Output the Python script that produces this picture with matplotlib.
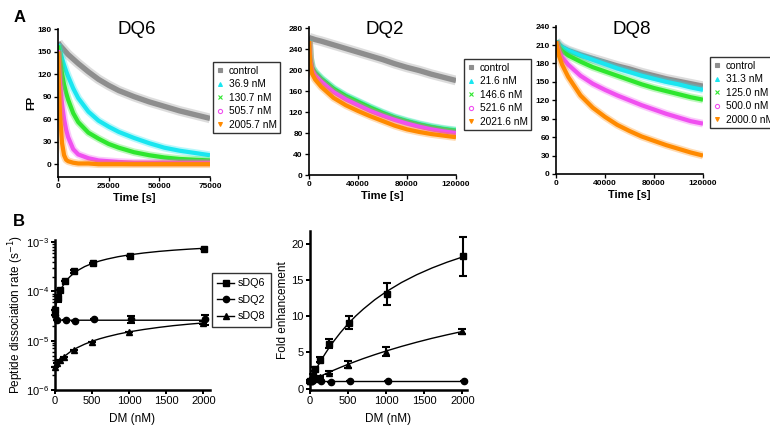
import matplotlib
matplotlib.use("Agg")
import matplotlib.pyplot as plt
from matplotlib.lines import Line2D
from matplotlib.ticker import LogLocator, NullFormatter, FixedLocator

plt.rcParams['font.family'] = ['Liberation Sans', 'DejaVu Sans']

# ---- panel A: FP decay traces ----
series_names = ["control", "c1", "c2", "c3", "c4"]
series_colors = ["#8e8e8e", "#19e6f0", "#2ee62e", "#f050f0", "#ff8a00"]
series_markers = ["s", "^", "x", "o", "v"]

dq6_labels = ["control", "36.9 nM", "130.7 nM", "505.7 nM", "2005.7 nM"]
dq6_time = [0, 500, 1000, 2000, 3000, 4000, 5000, 7500, 10000, 15000, 20000,
            25000, 30000, 37500, 45000, 52500, 60000, 67500, 75000]
dq6_control = [162, 160, 158, 155, 152, 149, 146, 140, 134, 123, 113, 105, 98, 90, 83, 77, 71, 66, 61]
dq6_c1 = [160, 155, 150, 141, 132, 124, 117, 101, 88, 70, 58, 50, 43, 35, 28, 22, 18, 15, 12]
dq6_c2 = [158, 148, 138, 120, 106, 95, 86, 68, 56, 42, 34, 27, 22, 16, 12, 9, 7, 6, 5]
dq6_c3 = [152, 128, 108, 80, 60, 46, 36, 20, 13, 8, 5, 4, 3, 2, 2, 2, 2, 2, 2]
dq6_c4 = [150, 100, 65, 28, 12, 6, 4, 2, 1, 1, 0, 0, 0, 0, 0, 0, 0, 0, 0]

dq2_labels = ["control", "21.6 nM", "146.6 nM", "521.6 nM", "2021.6 nM"]
dq2_time = [0, 1000, 2500, 5000, 10000, 20000, 30000, 40000, 50000, 60000,
            70000, 80000, 90000, 100000, 110000, 120000]
dq2_control = [262, 261, 260, 258, 255, 248, 241, 234, 227, 220, 212, 205, 199, 192, 186, 180]
dq2_c1 = [257, 222, 205, 196, 184, 165, 151, 140, 129, 119, 110, 103, 97, 92, 88, 85]
dq2_c2 = [257, 222, 204, 195, 183, 164, 150, 139, 128, 118, 109, 102, 96, 91, 87, 84]
dq2_c3 = [256, 218, 200, 190, 178, 158, 144, 133, 122, 113, 105, 98, 92, 87, 83, 80]
dq2_c4 = [255, 212, 193, 182, 168, 147, 133, 122, 112, 103, 94, 87, 82, 78, 75, 72]

dq8_labels = ["control", "31.3 nM", "125.0 nM", "500.0 nM", "2000.0 nM"]
dq8_time = [0, 2500, 5000, 10000, 20000, 30000, 40000, 50000, 60000, 70000,
            80000, 90000, 100000, 110000, 120000]
dq8_control = [216, 210, 206, 201, 194, 188, 182, 176, 171, 165, 160, 155, 151, 147, 143]
dq8_c1 = [216, 210, 206, 201, 193, 186, 179, 172, 166, 160, 155, 150, 146, 141, 137]
dq8_c2 = [216, 206, 200, 193, 183, 174, 167, 160, 153, 146, 140, 135, 130, 125, 121]
dq8_c3 = [216, 200, 190, 178, 160, 147, 137, 128, 120, 112, 105, 98, 92, 86, 82]
dq8_c4 = [216, 192, 178, 158, 128, 108, 93, 80, 70, 61, 54, 47, 41, 35, 30]

# ---- panel B: DM dose response ----
dq6_conc = [0, 36.9, 68.7, 130.7, 255.7, 505.7, 1005.7, 2005.7]
dq2_conc = [0, 21.6, 146.6, 271.6, 521.6, 1021.6, 2021.6]
dq8_conc = [0, 31.3, 62.5, 125, 250, 500, 1000, 2000]

dq6_rate = [4.1e-5, 7.2e-5, 1.08e-4, 1.65e-4, 2.55e-4, 3.7e-4, 5.3e-4, 7.3e-4]
dq6_rate_err = [0, 1.2e-5, 0, 0, 1.5e-5, 0, 0, 0]
dq2_rate = [3.3e-5, 2.6e-5, 2.6e-5, 2.45e-5, 2.75e-5, 2.7e-5, 2.7e-5]
dq2_rate_err = [0, 0, 0, 0, 0, 4.5e-6, 6e-6]
dq8_rate = [2.9e-6, 3.6e-6, 4.0e-6, 4.6e-6, 6.4e-6, 9.4e-6, 1.47e-5, 2.3e-5]
dq8_rate_err = [0, 0, 0, 0, 0, 0, 0, 1.5e-6]

dq6_fold = [1.0, 1.7, 2.7, 4.0, 6.2, 9.1, 13.1, 18.3]
dq6_fold_err = [0.2, 0.3, 0.3, 0.3, 0.6, 0.9, 1.5, 2.7]
dq2_fold = [1.0, 1.05, 1.0, 0.9, 1.0, 1.0, 1.0]
dq2_fold_err = [0, 0, 0, 0, 0, 0, 0]
dq8_fold = [1.0, 1.2, 1.3, 1.55, 2.2, 3.3, 5.1, 7.9]
dq8_fold_err = [0.1, 0.1, 0.1, 0.15, 0.2, 0.5, 0.6, 0.4]

# fitted curves
fit_x = [0, 25, 50, 75, 100, 150, 200, 250, 300, 400, 500, 600, 700, 850, 1000,
         1200, 1400, 1600, 1800, 2000]
dq6_rate_fit = [4.1e-5, 6.3e-5, 8.5e-5, 1.05e-4, 1.25e-4, 1.63e-4, 1.98e-4, 2.31e-4, 2.62e-4,
                3.18e-4, 3.67e-4, 4.12e-4, 4.51e-4, 5.04e-4, 5.49e-4, 6.01e-4, 6.46e-4,
                6.84e-4, 7.17e-4, 7.46e-4]
dq2_rate_fit = [3.0e-5, 2.75e-5, 2.65e-5, 2.62e-5, 2.6e-5, 2.6e-5, 2.6e-5, 2.6e-5, 2.6e-5,
                2.6e-5, 2.6e-5, 2.6e-5, 2.6e-5, 2.6e-5, 2.6e-5, 2.6e-5, 2.6e-5, 2.6e-5,
                2.6e-5, 2.6e-5]
dq8_rate_fit = [2.9e-6, 3.28e-6, 3.65e-6, 4.03e-6, 4.41e-6, 5.13e-6, 5.86e-6, 6.53e-6, 7.22e-6,
                8.5e-6, 9.74e-6, 1.09e-5, 1.2e-5, 1.36e-5, 1.51e-5, 1.69e-5, 1.86e-5,
                2.02e-5, 2.16e-5, 2.29e-5]
dq6_fold_fit = [1.0, 1.54, 2.07, 2.57, 3.06, 3.98, 4.84, 5.64, 6.39, 7.75, 8.96, 10.04,
                11.0, 12.29, 13.4, 14.67, 15.75, 16.68, 17.49, 18.2]
dq2_fold_fit = [1.0, 1.0, 1.0, 1.0, 1.0, 1.0, 1.0, 1.0, 1.0, 1.0, 1.0, 1.0, 1.0, 1.0, 1.0,
                1.0, 1.0, 1.0, 1.0, 1.0]
dq8_fold_fit = [1.0, 1.13, 1.26, 1.39, 1.52, 1.77, 2.02, 2.25, 2.49, 2.93, 3.36, 3.76,
                4.15, 4.69, 5.2, 5.83, 6.41, 6.95, 7.44, 7.9]

W, H = 770, 428
fig = plt.figure(figsize=(W / 100, H / 100), dpi=100)


def px_axes(left, top, right, bottom):
    return fig.add_axes([left / W, 1 - bottom / H, (right - left) / W, (bottom - top) / H])


def style_axes(ax, lw, tick_size, bold):
    for side in ["top", "right"]:
        ax.spines[side].set_visible(False)
    for side in ["left", "bottom"]:
        ax.spines[side].set_linewidth(lw)
    ax.tick_params(direction="out", length=3, width=lw * 0.8, labelsize=tick_size, pad=1.5)
    if bold:
        for lab in ax.get_xticklabels() + ax.get_yticklabels():
            lab.set_fontweight("bold")


def trace_panel(ax, title, title_x, time, traces, labels, xticks, yticks, ylim, legend_xy):
    for y, c, name in zip(traces, series_colors, series_names):
        width = 7 if name == "control" else 5.5
        ax.plot(time, y, color=c, lw=width, alpha=0.3, solid_capstyle="butt")
        ax.plot(time, y, color=c, lw=width * 0.55, solid_capstyle="butt")
    ax.set_xlim(0, xticks[-1])
    ax.set_ylim(*ylim)
    ax.set_xticks(xticks)
    ax.set_yticks(yticks)
    style_axes(ax, 1.2, 6, True)
    ax.set_xlabel("Time [s]", fontsize=8, fontweight="bold", labelpad=2)
    fig.text(title_x / W, 1 - 29 / H, title, fontsize=13.5, ha="center", va="center")
    handles = []
    for c, m in zip(series_colors, series_markers):
        if m == "o":
            h = Line2D([], [], ls="none", marker=m, ms=3, mfc="none", mec=c, mew=0.8)
        else:
            h = Line2D([], [], ls="none", marker=m, ms=2.8, color=c, mew=0.8)
        handles.append(h)
    leg = ax.legend(handles, labels, loc="upper left",
                    bbox_to_anchor=(legend_xy[0] / W, 1 - legend_xy[1] / H),
                    bbox_transform=fig.transFigure, fontsize=7.3, frameon=True,
                    fancybox=False, edgecolor="black", handlelength=0.6,
                    handletextpad=0.6, labelspacing=0.35, borderpad=0.35,
                    borderaxespad=0)
    leg.get_frame().set_linewidth(1.0)


ax1 = px_axes(58, 29, 210, 177)
trace_panel(ax1, "DQ6", 137, dq6_time, [dq6_control, dq6_c1, dq6_c2, dq6_c3, dq6_c4], dq6_labels,
            [0, 25000, 50000, 75000], [0, 30, 60, 90, 120, 150, 180], (-17, 180), (213, 62))
ax1.set_ylabel("FP", fontsize=8, fontweight="bold")
ax1.yaxis.set_label_coords(-0.145, 0.5)

ax2 = px_axes(309, 27, 456, 175)
trace_panel(ax2, "DQ2", 385, dq2_time, [dq2_control, dq2_c1, dq2_c2, dq2_c3, dq2_c4], dq2_labels,
            [0, 40000, 80000, 120000], [0, 40, 80, 120, 160, 200, 240, 280], (0, 282), (464, 59))

ax3 = px_axes(556, 26, 703, 174)
trace_panel(ax3, "DQ8", 632, dq8_time, [dq8_control, dq8_c1, dq8_c2, dq8_c3, dq8_c4], dq8_labels,
            [0, 40000, 80000, 120000], [0, 30, 60, 90, 120, 150, 180, 210, 240], (0, 241), (710, 57))

# ---- panel B left: dissociation rate (log) ----
ax4 = px_axes(55, 240, 210, 390)
ax4.set_yscale("log")
for x, y, e, fy, m in [(dq6_conc, dq6_rate, dq6_rate_err, dq6_rate_fit, "s"),
                       (dq2_conc, dq2_rate, dq2_rate_err, dq2_rate_fit, "o"),
                       (dq8_conc, dq8_rate, dq8_rate_err, dq8_rate_fit, "^")]:
    ax4.plot(fit_x, fy, color="black", lw=1.0)
    ax4.errorbar(x, y, yerr=e, fmt=m, color="black", ms=4.5, capsize=3, elinewidth=1.5,
                 capthick=1.5, clip_on=False)
ax4.set_xlim(0, 2090)
ax4.set_ylim(1e-6, 1.1e-3)
ax4.set_xticks([0, 500, 1000, 1500, 2000])
ax4.yaxis.set_major_locator(FixedLocator([1e-6, 1e-5, 1e-4, 1e-3]))
ax4.yaxis.set_minor_locator(LogLocator(base=10, subs=range(2, 10)))
ax4.yaxis.set_minor_formatter(NullFormatter())
style_axes(ax4, 1.8, 8, False)
ax4.tick_params(axis="y", which="minor", length=2, width=1)
ax4.set_xlabel("DM (nM)", fontsize=8.5, labelpad=5)
ax4.set_ylabel("Peptide dissociation rate (s$^{-1}$)", fontsize=8.5)
ax4.yaxis.set_label_coords(-0.19, 0.5)

leg_handles = [Line2D([], [], color="black", lw=1, marker=m, ms=4.5) for m in ["s", "o", "^"]]
leg_b = ax4.legend(leg_handles, ["sDQ6", "sDQ2", "sDQ8"], loc="upper left",
                   bbox_to_anchor=(212 / W, 1 - 273 / H), bbox_transform=fig.transFigure,
                   fontsize=7.8, frameon=True, fancybox=False, edgecolor="black",
                   handlelength=1.5, handletextpad=0.4, labelspacing=0.6, borderpad=0.5,
                   borderaxespad=0)
leg_b.get_frame().set_linewidth(1.0)

# ---- panel B right: fold enhancement ----
ax5 = px_axes(310, 231, 467, 390)
for x, y, e, fy, m in [(dq6_conc, dq6_fold, dq6_fold_err, dq6_fold_fit, "s"),
                       (dq2_conc, dq2_fold, dq2_fold_err, dq2_fold_fit, "o"),
                       (dq8_conc, dq8_fold, dq8_fold_err, dq8_fold_fit, "^")]:
    ax5.plot(fit_x, fy, color="black", lw=1.0)
    ax5.errorbar(x, y, yerr=e, fmt=m, color="black", ms=4.5, capsize=3, elinewidth=1.5,
                 capthick=1.5, clip_on=False)
ax5.set_xlim(0, 2060)
ax5.set_ylim(-0.2, 21.8)
ax5.set_xticks([0, 500, 1000, 1500, 2000])
ax5.set_yticks([0, 5, 10, 15, 20])
style_axes(ax5, 1.8, 8, False)
ax5.set_xlabel("DM (nM)", fontsize=8.5, labelpad=5)
ax5.set_ylabel("Fold enhancement", fontsize=8.5, labelpad=2)

fig.text(14 / W, 1 - 17 / H, "A", fontsize=12, fontweight="bold", va="center")
fig.text(13 / W, 1 - 221 / H, "B", fontsize=12, fontweight="bold", va="center")

fig.savefig("out.png", dpi=100)
